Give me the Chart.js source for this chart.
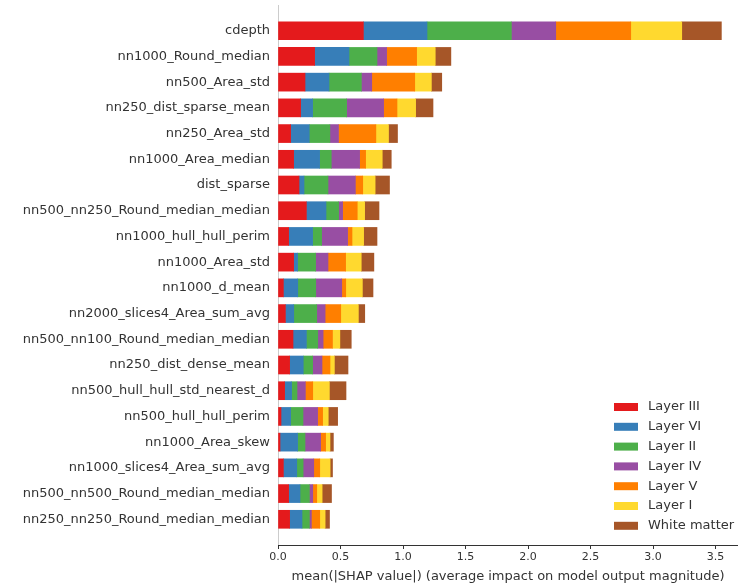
<!DOCTYPE html>
<html>
<head>
<meta charset="utf-8">
<script src="https://cdn.jsdelivr.net/npm/chart.js@4"></script>
<style>
  html, body { margin: 0; padding: 0; background: #fff; }
  #wrap { width: 738px; height: 584px; position: relative; }
</style>
</head>
<body>
<div id="wrap"><canvas id="shap"></canvas></div>
<script>
// feature names, top to bottom
const features = [
  'cdepth', 'nn1000_Round_median', 'nn500_Area_std', 'nn250_dist_sparse_mean',
  'nn250_Area_std', 'nn1000_Area_median', 'dist_sparse', 'nn500_nn250_Round_median_median',
  'nn1000_hull_hull_perim', 'nn1000_Area_std', 'nn1000_d_mean', 'nn2000_slices4_Area_sum_avg',
  'nn500_nn100_Round_median_median', 'nn250_dist_dense_mean', 'nn500_hull_hull_std_nearest_d',
  'nn500_hull_hull_perim', 'nn1000_Area_skew', 'nn1000_slices4_Area_sum_avg',
  'nn500_nn500_Round_median_median', 'nn250_nn250_Round_median_median'
];

const layerIII    = [0.683, 0.293, 0.216, 0.181, 0.101, 0.125, 0.168, 0.227, 0.085, 0.125, 0.043, 0.059, 0.120, 0.093, 0.053, 0.024, 0.016, 0.043, 0.085, 0.093];
const layerVI     = [0.509, 0.275, 0.192, 0.096, 0.149, 0.208, 0.040, 0.157, 0.192, 0.032, 0.115, 0.067, 0.107, 0.109, 0.056, 0.077, 0.141, 0.107, 0.091, 0.099];
const layerII     = [0.675, 0.224, 0.259, 0.272, 0.165, 0.093, 0.192, 0.101, 0.072, 0.144, 0.144, 0.184, 0.091, 0.075, 0.043, 0.099, 0.059, 0.051, 0.075, 0.059];
const layerIV     = [0.355, 0.077, 0.083, 0.296, 0.069, 0.227, 0.219, 0.032, 0.208, 0.099, 0.208, 0.067, 0.043, 0.075, 0.067, 0.117, 0.125, 0.085, 0.027, 0.016];
const layerV      = [0.600, 0.240, 0.344, 0.107, 0.299, 0.048, 0.059, 0.117, 0.035, 0.141, 0.032, 0.125, 0.075, 0.064, 0.059, 0.040, 0.040, 0.048, 0.032, 0.067];
const layerI      = [0.408, 0.149, 0.133, 0.149, 0.101, 0.133, 0.099, 0.059, 0.093, 0.125, 0.133, 0.141, 0.059, 0.035, 0.133, 0.045, 0.035, 0.083, 0.043, 0.043];
const whiteMatter = [0.317, 0.125, 0.083, 0.139, 0.072, 0.072, 0.115, 0.115, 0.107, 0.101, 0.085, 0.051, 0.091, 0.109, 0.133, 0.075, 0.027, 0.019, 0.075, 0.035];

const xTicks = [0, 0.5, 1.0, 1.5, 2.0, 2.5, 3.0, 3.5];

const FONT = "'DejaVu Sans', sans-serif";
const TEXT = '#333333';

// empty slots at both ends give the same margin as ylim(-1, N)
const labels = [''].concat(features, ['']);
const pad = arr => [null].concat(arr, [null]);

const series = [
  { label: 'Layer III', data: layerIII, color: '#e41a1c' },
  { label: 'Layer VI', data: layerVI, color: '#377eb8' },
  { label: 'Layer II', data: layerII, color: '#4daf4a' },
  { label: 'Layer IV', data: layerIV, color: '#984ea3' },
  { label: 'Layer V', data: layerV, color: '#ff7f00' },
  { label: 'Layer I', data: layerI, color: '#ffd92f' },
  { label: 'White matter', data: whiteMatter, color: '#a65628' }
];

// legend in the lower right corner of the plot
const cornerLegend = {
  id: 'cornerLegend',
  afterDraw(chart) {
    const ctx = chart.ctx;
    const area = chart.chartArea;
    const x0 = area.right - 124;
    const y0 = area.bottom - 138;
    ctx.save();
    ctx.font = '13px ' + FONT;
    ctx.textBaseline = 'middle';
    ctx.textAlign = 'left';
    chart.data.datasets.forEach((ds, i) => {
      const y = y0 + i * 19.8;
      ctx.fillStyle = ds.backgroundColor;
      ctx.fillRect(x0, y - 4, 24, 8);
      ctx.fillStyle = TEXT;
      ctx.fillText(ds.label, x0 + 34, y);
    });
    ctx.restore();
  }
};

new Chart(document.getElementById('shap'), {
  type: 'bar',
  data: {
    labels: labels,
    datasets: series.map(s => ({
      label: s.label,
      data: pad(s.data),
      backgroundColor: s.color,
      borderWidth: 0,
      barThickness: 18
    }))
  },
  options: {
    indexAxis: 'y',
    responsive: true,
    maintainAspectRatio: false,
    animation: false,
    layout: { padding: { top: 5, right: 0, left: 0, bottom: 0 } },
    plugins: {
      legend: { display: false },
      tooltip: { enabled: false }
    },
    scales: {
      x: {
        stacked: true,
        min: 0,
        max: 3.68,
        afterBuildTicks: scale => { scale.ticks = xTicks.map(v => ({ value: v })); },
        afterFit: scale => { scale.height = 39; },
        ticks: {
          color: TEXT,
          font: { family: FONT, size: 11 },
          padding: 2,
          callback: v => Number(v).toFixed(1)
        },
        grid: { drawOnChartArea: false, drawTicks: true, tickLength: 4, color: '#333333' },
        border: { display: true, color: '#333333', width: 1 },
        title: {
          display: true,
          text: 'mean(|SHAP value|) (average impact on model output magnitude)',
          color: TEXT,
          font: { family: FONT, size: 13 },
          padding: { top: 0, bottom: 0 }
        }
      },
      y: {
        stacked: true,
        offset: false,
        afterFit: scale => {
          scale.width = 278;
          scale.paddingTop = 0;
          scale.paddingBottom = 0;
        },
        ticks: {
          color: TEXT,
          font: { family: FONT, size: 13 },
          padding: 8,
          autoSkip: false
        },
        grid: { display: false, drawTicks: false },
        border: { display: true, color: 'rgba(0,0,0,0.2)', width: 1 }
      }
    }
  },
  plugins: [cornerLegend]
});
</script>
</body>
</html>
